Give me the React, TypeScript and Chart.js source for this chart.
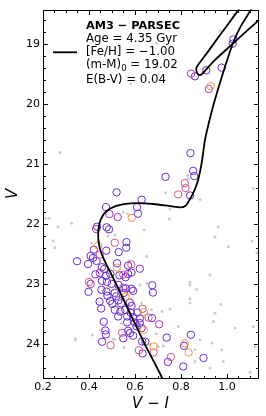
import React, { useEffect, useRef } from "react";
import { Chart, registerables } from "chart.js";

Chart.register(...registerables);

// ---------------- data ----------------
const isoVI = [
  0.735, 0.718, 0.681, 0.643, 0.612, 0.581, 0.55, 0.519, 0.493, 0.467, 0.452, 0.443, 0.44, 0.442, 0.449,
  0.466, 0.495, 0.54, 0.6, 0.68, 0.76, 0.8, 0.82, 0.836, 0.853, 0.866, 0.876, 0.89, 0.905, 0.925, 0.947,
  0.985, 1.028, 1.06, 1.104, 1.16, 1.131, 1.051, 1.011, 0.961, 0.912, 0.868, 0.869, 0.879, 0.892, 0.945,
  1.028, 1.085, 1.137, 1.2,
];
const isoV = [
  24.75, 24.56, 24.28, 24.0, 23.75, 23.5, 23.25, 23.0, 22.8, 22.6, 22.46, 22.32, 22.18, 22.06, 21.94,
  21.82, 21.73, 21.67, 21.645, 21.66, 21.7, 21.715, 21.69, 21.6, 21.48, 21.36, 21.24, 20.98, 20.58, 20.25,
  19.93, 19.45, 18.96, 18.7, 18.42, 18.0, 18.0, 18.42, 18.63, 18.89, 19.15, 19.38, 19.46, 19.51, 19.49,
  19.27, 18.98, 18.78, 18.6, 18.38,
];

const fieldVI = [
  0.97, 0.694, 0.581, 0.273, 0.733, 0.829, 0.832, 0.883, 1.115, 0.549, 0.568, 0.752, 0.749, 0.64, 0.21,
  0.226, 0.265, 0.325, 0.244, 0.251, 0.483, 0.512, 0.411, 0.962, 0.948, 1.006, 1.108, 1.13, 0.651, 0.575,
  0.926, 0.839, 0.839, 0.868, 0.621, 0.651, 0.839, 0.839, 0.973, 0.948, 0.718, 0.752, 0.941, 1.035, 1.115,
  0.788, 0.883, 0.934, 0.977, 0.861, 0.665, 0.701, 0.723, 0.341, 0.341, 0.552, 0.415, 0.451, 0.505, 0.541,
  0.629, 0.672, 0.694, 0.861, 0.984, 0.926, 1.101, 1.122, 0.575, 0.665, 0.512,
];
const fieldV = [
  18.767, 18.978, 19.654, 20.801, 21.473, 21.179, 21.233, 21.586, 21.403, 21.794, 21.824, 21.744, 21.91,
  22.088, 21.899, 21.899, 22.038, 21.982, 22.273, 22.389, 22.193, 22.176, 22.314, 22.038, 22.205, 22.371,
  22.276, 22.471, 22.537, 22.604, 22.842, 22.963, 23.008, 23.079, 23.008, 22.98, 23.241, 23.312, 23.329,
  23.479, 23.452, 23.412, 23.618, 23.728, 23.701, 23.701, 23.923, 23.977, 24.089, 24.089, 24.006, 24.034,
  24.022, 23.901, 23.928, 24.051, 23.844, 23.768, 23.911, 23.648, 23.312, 23.424, 23.823, 24.283, 24.283,
  24.393, 24.466, 24.044, 23.341, 23.146, 23.917,
];

// member stars: colour class 0 = violet, 1 = purple, 2 = pink, 3 = orange
const memberVI = [
  1.028, 1.025, 0.844, 0.861, 0.91, 0.977, 0.929, 0.921, 0.841, 0.853, 0.858, 0.733, 0.817, 0.82, 0.788,
  0.84, 0.629, 0.52, 0.474, 0.609, 0.613, 0.489, 0.525, 0.586, 0.435, 0.431, 0.477, 0.487, 0.512, 0.563,
  0.562, 0.44, 0.421, 0.475, 0.529, 0.447, 0.407, 0.418, 0.348, 0.396, 0.433, 0.522, 0.57, 0.584, 0.621,
  0.456, 0.466, 0.521, 0.428, 0.447, 0.473, 0.493, 0.532, 0.549, 0.559, 0.57, 0.585, 0.4, 0.407, 0.456,
  0.478, 0.499, 0.528, 0.549, 0.56, 0.585, 0.592, 0.398, 0.454, 0.476, 0.512, 0.48, 0.518, 0.559, 0.552,
  0.675, 0.678, 0.446, 0.492, 0.502, 0.528, 0.539, 0.578, 0.585, 0.453, 0.512, 0.536, 0.558, 0.581, 0.611,
  0.633, 0.639, 0.527, 0.566, 0.592, 0.621, 0.659, 0.674, 0.464, 0.566, 0.6, 0.621, 0.705, 0.607, 0.629,
  0.639, 0.57, 0.471, 0.473, 0.544, 0.578, 0.549, 0.592, 0.457, 0.494, 0.631, 0.645, 0.738, 0.843, 0.817,
  0.813, 0.617, 0.633, 0.681, 0.681, 0.756, 0.743, 0.833, 0.898, 0.81,
];
const memberV = [
  18.917, 18.988, 19.487, 19.532, 19.432, 19.387, 19.698, 19.743, 20.813, 21.107, 21.195, 21.207, 21.312,
  21.395, 21.5, 21.519, 21.588, 21.465, 21.711, 21.714, 21.822, 21.827, 21.877, 21.89, 22.038, 22.077,
  22.048, 22.082, 22.306, 22.296, 22.388, 22.351, 22.421, 22.438, 22.462, 22.504, 22.526, 22.559, 22.614,
  22.659, 22.609, 22.647, 22.687, 22.667, 22.738, 22.713, 22.742, 22.72, 22.833, 22.808, 22.858, 22.825,
  22.85, 22.837, 22.88, 22.825, 22.803, 22.958, 22.991, 22.941, 22.958, 22.991, 23.008, 23.058, 23.066,
  23.074, 23.108, 23.124, 23.091, 23.119, 23.141, 23.191, 23.199, 23.202, 23.141, 23.013, 23.136, 23.286,
  23.274, 23.324, 23.266, 23.316, 23.302, 23.357, 23.402, 23.424, 23.452, 23.424, 23.469, 23.469, 23.407,
  23.462, 23.535, 23.535, 23.545, 23.568, 23.552, 23.562, 23.623, 23.632, 23.635, 23.645, 23.665, 23.701,
  23.728, 23.756, 23.773, 23.768, 23.834, 23.806, 23.811, 23.898, 23.856, 23.956, 24.014, 23.951, 23.956,
  23.886, 23.839, 23.981, 24.022, 24.097, 24.15, 24.034, 24.135, 24.21, 24.292, 24.134, 24.227, 24.368,
];
const memberClass = [
  0, 0, 1, 0, 0, 0, 3, 1, 0, 0, 0, 0, 2, 2, 2, 0, 0, 0, 0, 0, 0, 1, 1, 3, 0, 1, 0, 0, 2, 0, 0, 3, 0, 0, 0,
  2, 0, 0, 0, 0, 0, 0, 0, 2, 0, 0, 0, 3, 0, 1, 0, 0, 0, 2, 0, 0, 0, 2, 1, 0, 0, 0, 0, 1, 0, 0, 0, 0, 0, 0,
  0, 0, 0, 3, 0, 0, 0, 0, 0, 0, 0, 0, 0, 0, 0, 0, 0, 0, 0, 0, 2, 3, 0, 0, 0, 0, 2, 0, 0, 0, 0, 0, 1, 0, 0,
  3, 0, 0, 0, 2, 0, 0, 0, 0, 2, 0, 0, 0, 0, 3, 0, 2, 0, 3, 2, 2, 0, 3, 0, 0,
];

const xTickValues = [0.2, 0.4, 0.6, 0.8, 1.0];
const yTickValues = [19, 20, 21, 22, 23, 24];
const xLimits = [0.2, 1.135];
const yLimits = [18.42, 24.56];

const legendTitle = "AM3 \u2212 PARSEC";
const legendAge = "Age = 4.35 Gyr";
const legendFeH = "[Fe/H] = \u22121.00";
const legendDM = ["(m-M)", "0", " = 19.02"];
const legendEBV = "E(B-V) = 0.04";

// ---------------- style ----------------
const classColors = ["#6a2ad0", "#a536b6", "#d6508c", "#f69043"];
const FONT = "'DejaVu Sans', 'Liberation Sans', sans-serif";

const decorPlugin = {
  id: "decor",
  afterDraw(chart: any) {
    const { ctx, chartArea: a, scales } = chart;
    const xs = scales.x;
    const ys = scales.y;
    ctx.save();
    ctx.strokeStyle = "#000";
    ctx.lineWidth = 1;
    const L = Math.round(a.left) + 0.5;
    const R = Math.round(a.right) + 0.5;
    const T = Math.round(a.top) + 0.5;
    const B = Math.round(a.bottom) + 0.5;
    ctx.strokeRect(L, T, R - L, B - T);
    ctx.beginPath();
    for (let i = 0; i * 0.05 + 0.2 <= xLimits[1] + 1e-9; i++) {
      const v = 0.2 + i * 0.05;
      const px = Math.round(xs.getPixelForValue(v)) + 0.5;
      const len = i % 4 === 0 ? 4.5 : 2.5;
      ctx.moveTo(px, B);
      ctx.lineTo(px, B - len);
      ctx.moveTo(px, T);
      ctx.lineTo(px, T + len);
    }
    for (let i = 0; ; i++) {
      const v = 18.6 + i * 0.2;
      if (v > yLimits[1]) break;
      const py = Math.round(ys.getPixelForValue(v)) + 0.5;
      const major = Math.abs(v - Math.round(v)) < 1e-6;
      const len = major ? 4.5 : 2.5;
      ctx.moveTo(L, py);
      ctx.lineTo(L + len, py);
      ctx.moveTo(R, py);
      ctx.lineTo(R - len, py);
    }
    ctx.stroke();

    // legend
    ctx.lineWidth = 1.8;
    ctx.beginPath();
    ctx.moveTo(53, 52.3);
    ctx.lineTo(77, 52.3);
    ctx.stroke();
    ctx.fillStyle = "#000";
    ctx.textBaseline = "alphabetic";
    ctx.textAlign = "left";
    const tx = 86;
    ctx.font = `bold 11.3px ${FONT}`;
    ctx.fillText(legendTitle, tx, 29.3);
    ctx.font = `11.8px ${FONT}`;
    ctx.fillText(legendAge, tx, 41.8);
    ctx.fillText(legendFeH, tx, 55);
    ctx.fillText(legendDM[0], tx, 68.3);
    const w = ctx.measureText(legendDM[0]).width;
    ctx.font = `8.5px ${FONT}`;
    ctx.fillText(legendDM[1], tx + w, 70.8);
    const w2 = ctx.measureText(legendDM[1]).width;
    ctx.font = `11.8px ${FONT}`;
    ctx.fillText(legendDM[2], tx + w + w2, 68.3);
    ctx.fillText(legendEBV, tx, 83.3);
    ctx.restore();
  },
};

export default function App() {
  const canvasRef = useRef<HTMLCanvasElement | null>(null);

  useEffect(() => {
    const canvas = canvasRef.current;
    if (!canvas) return;

    const iso = isoVI.map((x, i) => ({ x, y: isoV[i] }));
    const field = fieldVI.map((x, i) => ({ x, y: fieldV[i] }));
    const memberSets = classColors.map((color, c) => ({
      label: "members" + c,
      data: memberVI
        .map((x, i) => ({ x, y: memberV[i], c: memberClass[i] }))
        .filter((p) => p.c === c)
        .map((p) => ({ x: p.x, y: p.y })),
      pointRadius: 3.7,
      pointHoverRadius: 3.7,
      pointBorderWidth: 1,
      pointBorderColor: color,
      pointBackgroundColor: "rgba(0,0,0,0)",
      showLine: false,
    }));

    const chart = new Chart(canvas, {
      type: "scatter",
      data: {
        datasets: [
          {
            label: "isochrone",
            data: iso,
            showLine: true,
            borderColor: "#000",
            borderWidth: 1.8,
            pointRadius: 0,
            tension: 0.25,
            fill: false,
          } as any,
          ...memberSets.slice().reverse(),
          {
            label: "field",
            data: field,
            pointRadius: 1.5,
            pointBorderWidth: 0,
            pointBackgroundColor: "#cdcdcd",
            showLine: false,
          },
        ],
      },
      options: {
        animation: false,
        responsive: false,
        devicePixelRatio: 1,
        events: [],
        layout: { padding: { left: 0, right: 8, top: 9, bottom: 0 } },
        elements: { line: { capBezierPoints: false } },
        plugins: { legend: { display: false }, tooltip: { enabled: false } },
        scales: {
          x: {
            type: "linear",
            min: xLimits[0],
            max: xLimits[1],
            grid: { display: false, drawTicks: false },
            border: { display: false },
            afterBuildTicks: (s: any) => {
              s.ticks = xTickValues.map((value) => ({ value }));
            },
            afterFit: (s: any) => {
              s.height = 38;
            },
            ticks: {
              padding: 3,
              color: "#000",
              font: { family: FONT, size: 11 },
              callback: (v: any) => Number(v).toFixed(1),
              maxRotation: 0,
            },
            title: {
              display: true,
              text: "V \u2212 I",
              color: "#000",
              font: { family: FONT, size: 15, style: "italic" },
              padding: { top: 0, bottom: 3 },
            },
          },
          y: {
            type: "linear",
            reverse: true,
            min: yLimits[0],
            max: yLimits[1],
            grid: { display: false, drawTicks: false },
            border: { display: false },
            afterBuildTicks: (s: any) => {
              s.ticks = yTickValues.map((value) => ({ value }));
            },
            afterFit: (s: any) => {
              s.width = 43;
            },
            ticks: {
              padding: 3,
              color: "#000",
              font: { family: FONT, size: 11 },
              callback: (v: any) => String(Math.round(Number(v))),
            },
            title: {
              display: true,
              text: "V",
              color: "#000",
              font: { family: FONT, size: 15, style: "italic" },
              padding: { top: 4, bottom: 0 },
            },
          },
        },
      },
      plugins: [decorPlugin],
    });

    return () => chart.destroy();
  }, []);

  return (
    <div style={{ position: "absolute", left: 0, top: 0, width: 266, height: 416, background: "#fff" }}>
      <canvas ref={canvasRef} width={266} height={416} style={{ display: "block" }} />
    </div>
  );
}
